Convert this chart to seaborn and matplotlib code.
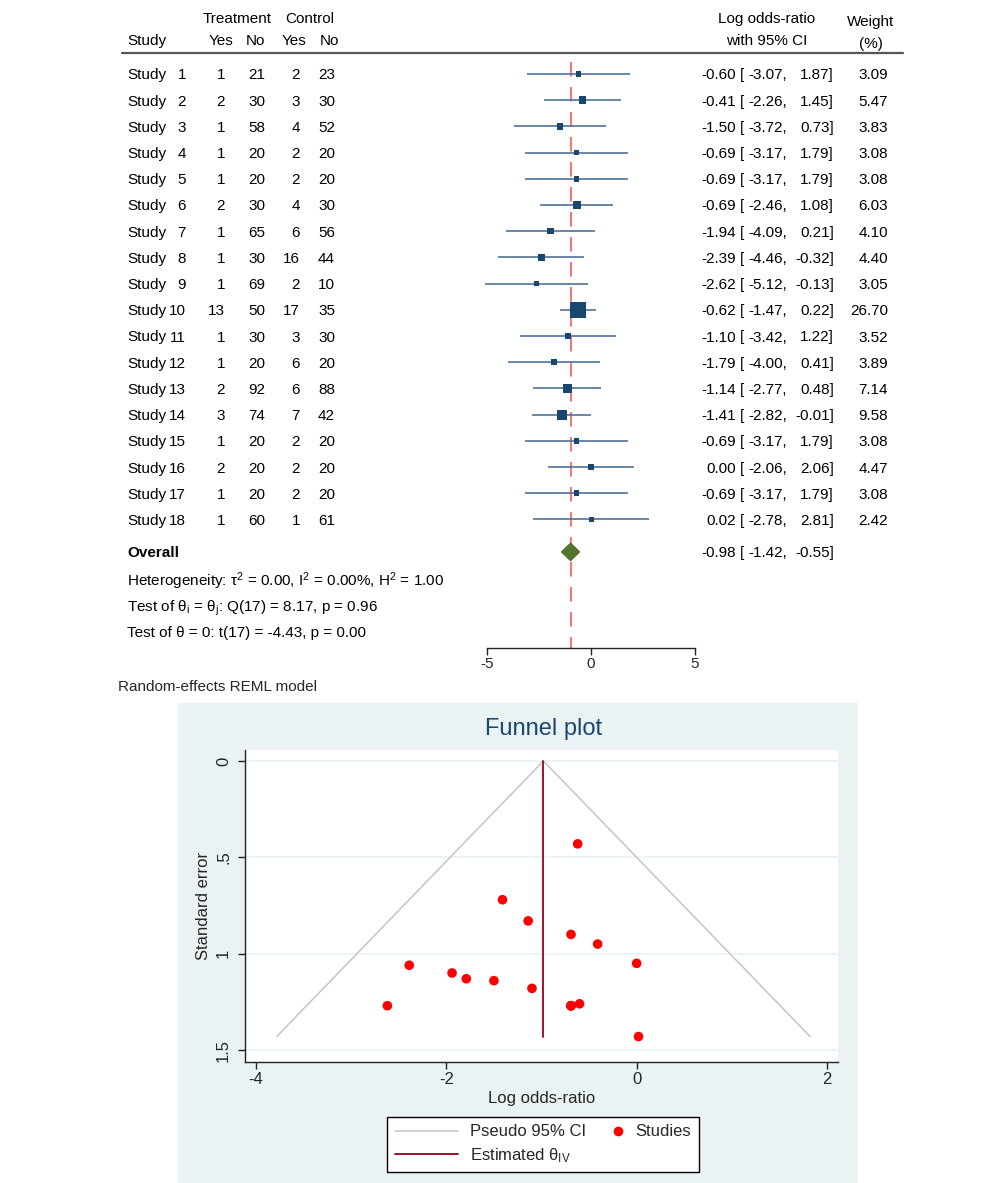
import numpy as np
import pandas as pd
import matplotlib
matplotlib.use("Agg")
import matplotlib.pyplot as plt
import matplotlib.transforms as mtransforms
from matplotlib.patches import Polygon, Rectangle
from matplotlib.lines import Line2D
from matplotlib.legend_handler import HandlerLine2D
import seaborn as sns

# ---------------- data ----------------
study_num = list(range(1, 19))
treat_yes = [1, 2, 1, 1, 1, 2, 1, 1, 1, 13, 1, 1, 2, 3, 1, 2, 1, 1]
treat_no = [21, 30, 58, 20, 20, 30, 65, 30, 69, 50, 30, 20, 92, 74, 20, 20, 20, 60]
ctrl_yes = [2, 3, 4, 2, 2, 4, 6, 16, 2, 17, 3, 6, 6, 7, 2, 2, 2, 1]
ctrl_no = [23, 30, 52, 20, 20, 30, 56, 44, 10, 35, 30, 20, 88, 42, 20, 20, 20, 61]
log_or = [-0.60, -0.41, -1.50, -0.69, -0.69, -0.69, -1.94, -2.39, -2.62, -0.62,
          -1.10, -1.79, -1.14, -1.41, -0.69, 0.00, -0.69, 0.02]
ci_low = [-3.07, -2.26, -3.72, -3.17, -3.17, -2.46, -4.09, -4.46, -5.12, -1.47,
          -3.42, -4.00, -2.77, -2.82, -3.17, -2.06, -3.17, -2.78]
ci_high = [1.87, 1.45, 0.73, 1.79, 1.79, 1.08, 0.21, -0.32, -0.13, 0.22,
           1.22, 0.41, 0.48, -0.01, 1.79, 2.06, 1.79, 2.81]
weight = [3.09, 5.47, 3.83, 3.08, 3.08, 6.03, 4.10, 4.40, 3.05, 26.70,
          3.52, 3.89, 7.14, 9.58, 3.08, 4.47, 3.08, 2.42]
std_err = [1.26, 0.95, 1.14, 1.27, 1.27, 0.90, 1.10, 1.06, 1.27, 0.43,
           1.18, 1.13, 0.83, 0.72, 1.27, 1.05, 1.27, 1.43]
overall_est, overall_low, overall_high = -0.98, -1.42, -0.55
theta_iv = -0.98

het_text = "Heterogeneity: τ$^2$ = 0.00, I$^2$ = 0.00%, H$^2$ = 1.00"
q_text = r"Test of θ$_\mathrm{i}$ = θ$_\mathrm{j}$: Q(17) = 8.17, p = 0.96"
t_text = "Test of θ = 0: t(17) = -4.43, p = 0.00"

df = pd.DataFrame({"num": study_num, "ty": treat_yes, "tn": treat_no, "cy": ctrl_yes,
                   "cn": ctrl_no, "est": log_or, "lo": ci_low, "hi": ci_high,
                   "w": weight, "se": std_err})
df["row"] = np.arange(len(df))

# ---------------- style ----------------
sns.set_theme(style="white")
plt.rcParams["font.family"] = ["Liberation Sans", "DejaVu Sans"]
plt.rcParams["mathtext.fontset"] = "custom"
plt.rcParams["mathtext.rm"] = "Liberation Sans"
plt.rcParams["mathtext.it"] = "Liberation Sans"
plt.rcParams["axes.unicode_minus"] = False

W, H = 1000, 1183
fig = plt.figure(figsize=(W / 100, H / 100), dpi=100)
fig.patch.set_facecolor("white")

navy = "#1A476F"
ci_col = "#4F7397"
fs = 11

# ---------------- forest plot ----------------
row_top, row_bot = -2.824, 21.908
ax = fig.add_axes([487 / W, 1 - 648 / H, 208 / W, 648 / H])
ax.patch.set_visible(False)
ax.set_xlim(-5, 5)
ax.set_ylim(row_bot, row_top)

ax.hlines(df["row"], df["lo"], df["hi"], color=ci_col, lw=1.2, zorder=2, clip_on=False)
wmin, wmax = df["w"].min(), df["w"].max()
sns.scatterplot(data=df, x="est", y="row", size="w", sizes=(5.3 * wmin, 5.3 * wmax),
                marker="s", color=navy, edgecolor="none", linewidth=0, legend=False,
                ax=ax, zorder=3, clip_on=False)

r_over = 18.24
h = 0.33
ax.add_patch(Polygon([(overall_low, r_over), (overall_est, r_over - h),
                      (overall_high, r_over), (overall_est, r_over + h)],
                     closed=True, color="#55752F", zorder=3, clip_on=False))
ax.vlines(overall_est, -0.46, row_bot, color="#EE7A7A", lw=1.5,
          linestyles=(0, (7, 5)), zorder=1, clip_on=False)

for s in ["left", "top", "right"]:
    ax.spines[s].set_visible(False)
ax.spines["bottom"].set_color("#222222")
ax.spines["bottom"].set_linewidth(1)
ax.set_xticks([-5, 0, 5])
ax.set_xticklabels(["-5", "0", "5"])
ax.set_yticks([])
ax.tick_params(axis="x", direction="out", length=5, width=1, color="#222222",
               labelsize=fs, pad=1.5, bottom=True)
ax.set_xlabel("")
ax.set_ylabel("")

tr = mtransforms.blended_transform_factory(fig.transFigure, ax.transData)


def put(xpx, y, s, ha="left", **kw):
    ax.text(xpx / W, y, s, transform=tr, ha=ha, va="center_baseline", fontsize=fs,
            color="black", clip_on=False, **kw)


# headers
put(237, -2.14, "Treatment", ha="center")
put(310, -2.14, "Control", ha="center")
put(127, -1.30, "Study")
put(221, -1.30, "Yes", ha="center")
put(255, -1.30, "No", ha="center")
put(294, -1.30, "Yes", ha="center")
put(329, -1.30, "No", ha="center")
put(767, -2.14, "Log odds-ratio", ha="center")
put(767, -1.30, "with 95% CI", ha="center")
put(871, -2.06, "Weight", ha="center")
put(871, -1.22, "(%)", ha="center")
ax.plot([122 / W, 903 / W], [-0.80, -0.80], transform=tr, color="#555555", lw=1.6,
        clip_on=False)

for _, r in df.iterrows():
    y = r["row"]
    put(127, y, "Study")
    put(186, y, f"{int(r['num'])}", ha="right")
    put(225, y, f"{int(r['ty'])}", ha="right")
    put(265, y, f"{int(r['tn'])}", ha="right")
    put(300, y, f"{int(r['cy'])}", ha="right")
    put(335, y, f"{int(r['cn'])}", ha="right")
    put(736, y, f"{r['est']:.2f}", ha="right")
    put(740, y, "[")
    put(787, y, f"{r['lo']:.2f},", ha="right")
    put(834, y, f"{r['hi']:.2f}]", ha="right")
    put(888, y, f"{r['w']:.2f}", ha="right")

put(127, r_over, "Overall", fontweight="bold")
put(736, r_over, f"{overall_est:.2f}", ha="right")
put(740, r_over, "[")
put(787, r_over, f"{overall_low:.2f},", ha="right")
put(834, r_over, f"{overall_high:.2f}]", ha="right")
put(127, 19.24, het_text)
put(127, 20.27, q_text)
put(127, 21.26, t_text)

fig.text(118 / W, 1 - 687 / H, "Random-effects REML model", fontsize=fs,
         ha="left", va="center")

# ---------------- funnel plot ----------------
panel = "#EAF2F3"
fig.add_artist(Rectangle((178 / W, 0), 680 / W, 1 - 703 / H, transform=fig.transFigure,
                         facecolor=panel, edgecolor="none", zorder=-1))

ax2 = fig.add_axes([245 / W, 1 - 1062 / H, 593 / W, 312 / H])
ax2.set_facecolor("white")
ax2.set_xlim(-4.116, 2.116)
ax2.set_ylim(1.562, -0.057)

se_max = df["se"].max()
ax2.plot([theta_iv - 1.96 * se_max, theta_iv, theta_iv + 1.96 * se_max],
         [se_max, 0, se_max], color="#C4C4C4", lw=1.1, zorder=2)
ax2.plot([theta_iv, theta_iv], [0, se_max], color="#A0122E", lw=1.4, zorder=2)
sns.scatterplot(data=df, x="est", y="se", color="#FF0000", s=48, edgecolor="none",
                linewidth=0, legend=False, ax=ax2, zorder=3)

ax2.set_xticks([-4, -2, 0, 2])
ax2.set_xticklabels(["-4", "-2", "0", "2"])
ax2.set_yticks([0, 0.5, 1, 1.5])
ax2.set_yticklabels(["0", ".5", "1", "1.5"], rotation=90, va="center")
ax2.yaxis.grid(True, color=panel, lw=1.3)
ax2.xaxis.grid(False)
ax2.set_axisbelow(True)
for s in ["top", "right"]:
    ax2.spines[s].set_visible(False)
for s in ["left", "bottom"]:
    ax2.spines[s].set_color("#222222")
    ax2.spines[s].set_linewidth(1)
ax2.tick_params(axis="both", direction="out", length=5, width=1, color="#222222",
                labelsize=12, left=True, bottom=True)
ax2.tick_params(axis="y", pad=5)
ax2.tick_params(axis="x", pad=2)
ax2.set_xlabel("")
ax2.set_ylabel("")

ax2.text(0.5, (1062 - 1098) / 312, "Log odds-ratio", transform=ax2.transAxes,
         ha="center", va="center", fontsize=12)
ax2.text((203 - 245) / 593, 0.5, "Standard error", transform=ax2.transAxes,
         ha="center", va="center", fontsize=12, rotation=90)
fig.text(544 / W, 1 - 729 / H, "Funnel plot", ha="center", va="center",
         fontsize=17, color=navy)


class RightDot(HandlerLine2D):
    # put the single marker near the right end of the handle box, next to its label
    def get_xdata(self, legend, xdescent, ydescent, width, height, fontsize):
        m = -xdescent + width - 0.35 * fontsize
        return [m - 1, m + 1], [m]


studies_handle = Line2D([], [], color="#FF0000", marker="o", ls="none", markersize=7,
                        markeredgewidth=0, label="Studies")
handles = [Line2D([], [], color="#C4C4C4", lw=1.1, label="Pseudo 95% CI"),
           Line2D([], [], color="#A0122E", lw=1.4, label=r"Estimated θ$_\mathrm{IV}$"),
           studies_handle]
leg = fig.legend(handles=handles, loc="upper center", bbox_to_anchor=(543 / W, 1 - 1117 / H),
                 ncol=2, frameon=True, fancybox=False, fontsize=12, handlelength=3.8,
                 columnspacing=-1.5, borderpad=0.45, labelspacing=0.4, handletextpad=0.7,
                 borderaxespad=0, handler_map={studies_handle: RightDot(numpoints=1)})
leg.get_frame().set_edgecolor("black")
leg.get_frame().set_linewidth(1)
leg.get_frame().set_facecolor("white")
leg.get_frame().set_alpha(1)

fig.savefig("out.png", dpi=100)
